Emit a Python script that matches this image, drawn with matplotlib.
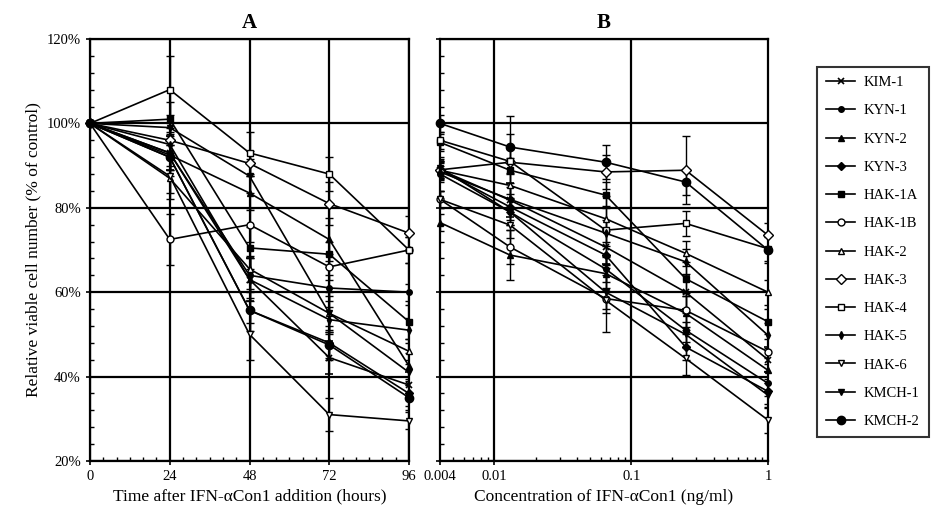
import matplotlib
matplotlib.use("Agg")
import matplotlib.pyplot as plt
from matplotlib.lines import Line2D
from matplotlib.ticker import MultipleLocator, FixedLocator, NullFormatter, LogLocator

plt.rcParams['font.family'] = ['Liberation Serif', 'DejaVu Serif']

cell_lines = ["KIM-1", "KYN-1", "KYN-2", "KYN-3", "HAK-1A", "HAK-1B", "HAK-2",
              "HAK-3", "HAK-4", "HAK-5", "HAK-6", "KMCH-1", "KMCH-2"]

# Panel A: time course (hours)
hours = [0, 24, 48, 72, 96]
time_values = {
    "KIM-1":  [100, 93.0, 63.0, 44.5, 38.0],
    "KYN-1":  [100, 93.0, 64.0, 61.0, 60.0],
    "KYN-2":  [100, 92.5, 83.5, 72.5, 42.5],
    "KYN-3":  [100, 92.0, 55.7, 48.0, 36.0],
    "HAK-1A": [100, 101.0, 70.5, 69.0, 53.0],
    "HAK-1B": [100, 72.5, 76.0, 66.0, 70.0],
    "HAK-2":  [100, 87.0, 65.5, 55.0, 46.0],
    "HAK-3":  [100, 96.0, 90.5, 81.0, 74.0],
    "HAK-4":  [100, 108.0, 93.0, 88.0, 70.0],
    "HAK-5":  [100, 95.0, 63.0, 53.5, 51.0],
    "HAK-6":  [100, 87.5, 50.0, 31.0, 29.5],
    "KMCH-1": [100, 99.0, 87.5, 55.0, 41.0],
    "KMCH-2": [100, 92.0, 55.7, 47.5, 35.0],
}
time_errors = {
    "KIM-1":  [0, 4, 5, 4, 3],
    "KYN-1":  [0, 3, 4, 3, 2],
    "KYN-2":  [0, 5, 4, 5, 3],
    "KYN-3":  [0, 3, 5, 4, 3],
    "HAK-1A": [0, 4, 5, 3, 4],
    "HAK-1B": [0, 6, 4, 3, 3],
    "HAK-2":  [0, 5, 3, 4, 3],
    "HAK-3":  [0, 3, 3, 5, 4],
    "HAK-4":  [0, 8, 5, 4, 3],
    "HAK-5":  [0, 3, 5, 3, 3],
    "HAK-6":  [0, 4, 6, 4, 2],
    "KMCH-1": [0, 3, 4, 5, 3],
    "KMCH-2": [0, 3, 3, 3, 3],
}

# Panel B: concentration (ng/ml)
conc = [0.004, 0.013, 0.065, 0.25, 1]
conc_values = {
    "KIM-1":  [89.0, 81.8, 70.7, 60.0, 44.0],
    "KYN-1":  [88.0, 79.0, 65.5, 51.0, 38.4],
    "KYN-2":  [76.5, 68.8, 64.4, 55.0, 41.5],
    "KYN-3":  [89.0, 80.2, 68.8, 47.0, 36.5],
    "HAK-1A": [95.5, 88.9, 83.0, 63.2, 53.0],
    "HAK-1B": [82.0, 70.7, 58.5, 55.7, 45.9],
    "HAK-2":  [88.9, 85.3, 77.4, 69.2, 60.0],
    "HAK-3":  [89.0, 90.8, 88.5, 88.9, 73.5],
    "HAK-4":  [96.0, 91.0, 74.7, 76.3, 70.3],
    "HAK-5":  [88.5, 82.0, 74.0, 67.2, 49.8],
    "HAK-6":  [82.0, 75.9, 58.1, 44.3, 29.7],
    "KMCH-1": [89.5, 79.0, 60.0, 50.0, 35.6],
    "KMCH-2": [100.0, 94.4, 90.8, 86.1, 70.0],
}
conc_errors = {
    "KIM-1":  [2, 4, 4, 4, 3],
    "KYN-1":  [2, 3, 3, 4, 3],
    "KYN-2":  [2, 6, 4, 4, 3],
    "KYN-3":  [2, 3, 3, 3, 3],
    "HAK-1A": [2, 3, 3, 4, 3],
    "HAK-1B": [2, 4, 8, 4, 3],
    "HAK-2":  [2, 3, 3, 3, 3],
    "HAK-3":  [2, 11, 4, 8, 3],
    "HAK-4":  [2, 3, 8, 3, 3],
    "HAK-5":  [2, 3, 3, 3, 3],
    "HAK-6":  [2, 3, 3, 4, 3],
    "KMCH-1": [2, 3, 4, 3, 3],
    "KMCH-2": [2, 3, 4, 3, 3],
}

markers = {
    "KIM-1":  dict(marker="x", ms=5, mfc="black", mew=1.2),
    "KYN-1":  dict(marker="o", ms=4, mfc="black", mew=1),
    "KYN-2":  dict(marker="^", ms=5, mfc="black", mew=1),
    "KYN-3":  dict(marker="D", ms=4, mfc="black", mew=1),
    "HAK-1A": dict(marker="s", ms=5, mfc="black", mew=1),
    "HAK-1B": dict(marker="o", ms=5, mfc="white", mew=1),
    "HAK-2":  dict(marker="^", ms=5, mfc="white", mew=1),
    "HAK-3":  dict(marker="D", ms=5, mfc="white", mew=1),
    "HAK-4":  dict(marker="s", ms=5, mfc="white", mew=1),
    "HAK-5":  dict(marker="d", ms=4, mfc="black", mew=1),
    "HAK-6":  dict(marker="v", ms=5, mfc="white", mew=1),
    "KMCH-1": dict(marker="v", ms=5, mfc="black", mew=1),
    "KMCH-2": dict(marker="o", ms=6, mfc="black", mew=1),
}

W, H = 938, 516
fig = plt.figure(figsize=(W / 100, H / 100), dpi=100)
axA = fig.add_axes([90 / W, 1 - 461 / H, 319 / W, 422 / H])
axB = fig.add_axes([440 / W, 1 - 461 / H, 328 / W, 422 / H])

handles = []
for name in cell_lines:
    st = markers[name]
    for ax, xs, vals, errs in ((axA, hours, time_values, time_errors),
                               (axB, conc, conc_values, conc_errors)):
        cont = ax.errorbar(xs, vals[name], yerr=errs[name], color="black",
                           lw=1.2, capsize=3, elinewidth=1, capthick=1, mec="black",
                           zorder=3, **st)
        cont.lines[0].set_clip_on(False)
    handles.append(Line2D([], [], color="black", lw=1.2, mec="black", **st))

for ax in (axA, axB):
    ax.set_ylim(20, 120)
    ax.yaxis.set_major_locator(MultipleLocator(20))
    ax.yaxis.set_minor_locator(MultipleLocator(4))
    ax.grid(True, which="major", color="black", lw=1.6)
    for sp in ax.spines.values():
        sp.set_linewidth(1.6)
    ax.tick_params(which="major", direction="inout", length=6, width=1.2, labelsize=10.5)
    ax.tick_params(which="minor", direction="in", length=3, width=1)
    ax.set_axisbelow(True)

axA.set_xlim(0, 96)
axA.xaxis.set_major_locator(FixedLocator(hours))
axA.xaxis.set_minor_locator(MultipleLocator(4))
axA.set_yticks([20, 40, 60, 80, 100, 120])
axA.set_yticklabels(["20%", "40%", "60%", "80%", "100%", "120%"])
axA.set_xlabel("Time after IFN-\u03b1Con1 addition (hours)", fontsize=12.5)
axA.set_ylabel("Relative viable cell number (% of control)", fontsize=12.5)
axA.set_title("A", fontsize=15, fontweight="bold", pad=8)

axB.set_xscale("log")
axB.set_xlim(0.004, 1)
axB.xaxis.set_major_locator(FixedLocator([0.004, 0.01, 0.1, 1]))
axB.set_xticklabels(["0.004", "0.01", "0.1", "1"])
axB.xaxis.set_minor_locator(LogLocator(base=10, subs=range(2, 10)))
axB.xaxis.set_minor_formatter(NullFormatter())
axB.tick_params(axis="y", labelleft=False)
axB.set_xlabel("Concentration of IFN-\u03b1Con1 (ng/ml)", fontsize=12.5)
axB.set_title("B", fontsize=15, fontweight="bold", pad=8)
axB.grid(False, which="major", axis="x")
for xv in [0.01, 0.1]:
    axB.axvline(xv, color="black", lw=1.6, zorder=0.5)

leg = fig.legend(handles, cell_lines, loc="upper left",
                 bbox_to_anchor=(810 / W, 1 - 60 / H), frameon=True, fancybox=False,
                 edgecolor="black", fontsize=10.5, labelspacing=1.03, handlelength=2.0,
                 borderpad=0.6, handletextpad=0.6)
leg.get_frame().set_linewidth(1.5)

fig.savefig("out.png", dpi=100)
